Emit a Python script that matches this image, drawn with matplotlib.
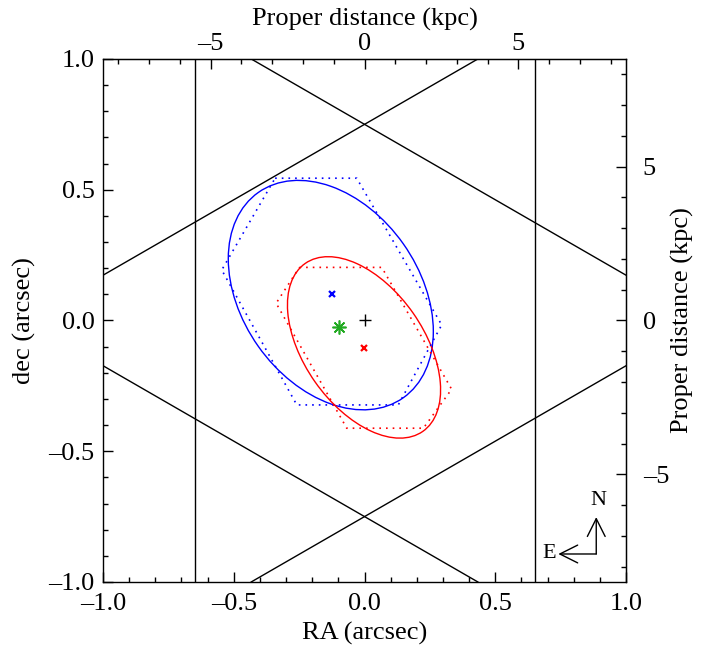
import matplotlib
matplotlib.use("Agg")
import matplotlib.pyplot as plt
from matplotlib.patches import Ellipse, Polygon
import numpy as np

plt.rcParams['font.family'] = ['Liberation Serif', 'DejaVu Serif']

KPC_PER_ARCSEC = 8.5

# field-of-view hexagon (vertices, arcsec)
fov_x = [0.0, 0.65, 0.65, 0.0, -0.65, -0.65]
fov_y = [0.75, 0.375, -0.375, -0.75, -0.375, 0.375]

# fitted ellipses: centre x, centre y, full width, full height, angle (deg)
blue_ell = [-0.129, 0.097, 0.961, 0.679, 125.2]
red_ell = [-0.002, -0.103, 0.784, 0.458, 125.0]

# dotted hexagonal contours
blue_hex_x = [-0.342, -0.030, 0.295, 0.129, -0.259, -0.546]
blue_hex_y = [0.544, 0.544, -0.017, -0.323, -0.323, 0.193]
red_hex_x = [-0.249, 0.066, 0.333, 0.225, -0.068, -0.338]
red_hex_y = [0.203, 0.203, -0.263, -0.412, -0.412, 0.066]

# point sources
blue_pt = (-0.125, 0.101)
red_pt = (-0.003, -0.104)
green_pt = (-0.096, -0.026)
black_pt = (0.0, 0.0)


def fmt(v, pos, nd=1):
    s = f'{v:.{nd}f}'
    return s.replace('-', '\u2013')


fig = plt.figure(figsize=(7.12, 6.48), dpi=100)
ax = fig.add_axes([0.1447, 0.1019, 0.7346, 0.8071])

# field-of-view edges, extended across the plot
for i in range(6):
    j = (i + 1) % 6
    p1, p2 = (fov_x[i], fov_y[i]), (fov_x[j], fov_y[j])
    if abs(p1[0] - p2[0]) < 1e-9:
        ax.axvline(p1[0], color='k', lw=1.0)
    else:
        ax.axline(p1, p2, color='k', lw=1.0)

for ell, c in [(blue_ell, 'blue'), (red_ell, 'red')]:
    ax.add_patch(Ellipse((ell[0], ell[1]), ell[2], ell[3], angle=ell[4],
                         fill=False, edgecolor=c, lw=1.0))

ax.add_patch(Polygon(np.column_stack([blue_hex_x, blue_hex_y]), closed=True,
                     fill=False, edgecolor='blue', lw=1.2, linestyle=(0, (1, 3))))
ax.add_patch(Polygon(np.column_stack([red_hex_x, red_hex_y]), closed=True,
                     fill=False, edgecolor='red', lw=1.2, linestyle=(0, (1, 3))))

ax.plot(*blue_pt, marker='x', color='blue', ms=4, mew=1.6)
ax.plot(*red_pt, marker='x', color='red', ms=4, mew=1.6)
ax.plot(*black_pt, marker='+', color='k', ms=9, mew=1.0)
ax.plot(*green_pt, marker=(8, 2, 0), color='#22aa22', ms=10, mew=1.2)

# compass
base = (0.886, -0.893)
arrow = dict(arrowstyle='->', lw=1.0, color='k', mutation_scale=32,
             shrinkA=0, shrinkB=0)
ax.annotate('', xy=(base[0], -0.752), xytext=base, arrowprops=arrow)
ax.annotate('', xy=(0.741, base[1]), xytext=base, arrowprops=arrow)
ax.text(base[0] + 0.01, -0.69, 'N', ha='center', va='center', fontsize=16)
ax.text(0.705, base[1], 'E', ha='center', va='center', fontsize=16)

ax.set_xlim(-1, 1)
ax.set_ylim(-1, 1)
ax.set_xticks([-1.0, -0.5, 0.0, 0.5, 1.0])
ax.set_yticks([-1.0, -0.5, 0.0, 0.5, 1.0])
ax.xaxis.set_major_formatter(matplotlib.ticker.FuncFormatter(fmt))
ax.yaxis.set_major_formatter(matplotlib.ticker.FuncFormatter(fmt))
ax.xaxis.set_minor_locator(matplotlib.ticker.MultipleLocator(0.1))
ax.yaxis.set_minor_locator(matplotlib.ticker.MultipleLocator(0.1))
ax.tick_params(which='both', direction='in', labelsize=19, width=1.0)
ax.tick_params(axis='x', pad=8)
ax.tick_params(axis='y', pad=6)
ax.tick_params(which='major', length=7)
ax.tick_params(which='minor', length=3.6)
ax.set_xlabel('RA (arcsec)', fontsize=19, labelpad=5)
ax.set_ylabel('dec (arcsec)', fontsize=19, labelpad=9)

to_kpc = lambda v: v * KPC_PER_ARCSEC
to_as = lambda v: v / KPC_PER_ARCSEC
top = ax.secondary_xaxis('top', functions=(to_kpc, to_as))
right = ax.secondary_yaxis('right', functions=(to_kpc, to_as))
for sec in (top, right):
    sec.set_ticks([-5, 0, 5])
    sec.tick_params(which='both', direction='in', labelsize=19, width=1.0)
    sec.tick_params(which='major', length=7)
    sec.tick_params(which='minor', length=3.6)
top.tick_params(pad=3)
right.tick_params(pad=12)
top.xaxis.set_major_formatter(matplotlib.ticker.FuncFormatter(lambda v, p: fmt(v, p, 0)))
right.yaxis.set_major_formatter(matplotlib.ticker.FuncFormatter(lambda v, p: fmt(v, p, 0)))
top.xaxis.set_minor_locator(matplotlib.ticker.MultipleLocator(1))
right.yaxis.set_minor_locator(matplotlib.ticker.MultipleLocator(1))
top.set_xlabel('Proper distance (kpc)', fontsize=19, labelpad=5)
right.set_ylabel('Proper distance (kpc)', fontsize=19, labelpad=1)

for s in ax.spines.values():
    s.set_linewidth(1.0)

fig.savefig('out.png', dpi=100)
